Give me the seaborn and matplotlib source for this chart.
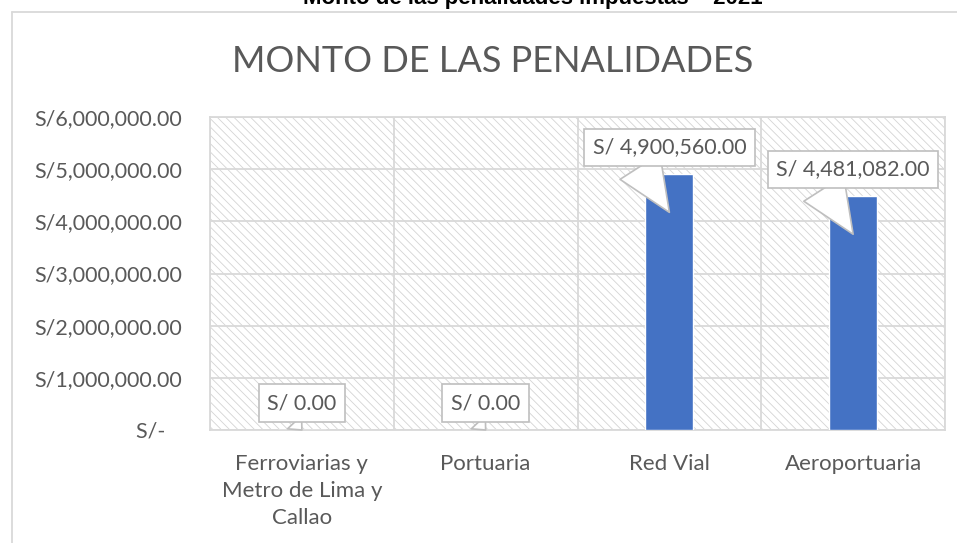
import matplotlib
matplotlib.use("Agg")
import matplotlib.pyplot as plt
import matplotlib.transforms as mtransforms
from matplotlib.patches import Rectangle
from matplotlib.lines import Line2D
import seaborn as sns
import pandas as pd

# --- Data ---
categories = ["Ferroviarias y\nMetro de Lima y\nCallao", "Portuaria", "Red Vial", "Aeroportuaria"]
montos = [0.00, 0.00, 4900560.00, 4481082.00]
etiquetas = ["S/ 0.00", "S/ 0.00", "S/ 4,900,560.00", "S/ 4,481,082.00"]
y_ticks = [0, 1000000, 2000000, 3000000, 4000000, 5000000, 6000000]
y_tick_labels = ["S/-   ", "S/1,000,000.00", "S/2,000,000.00", "S/3,000,000.00",
                 "S/4,000,000.00", "S/5,000,000.00", "S/6,000,000.00"]

df = pd.DataFrame({"categoria": categories, "monto": montos})

# --- Style ---
sns.set_theme(style="white")
plt.rcParams["font.family"] = ["Lato", "DejaVu Sans"]
plt.rcParams["hatch.linewidth"] = 0.6
plt.rcParams["hatch.color"] = "#D4D4D4"
text_color = "#595959"
grid_color = "#D9D9D9"
bar_color = "#4472C4"

fig = plt.figure(figsize=(9.57, 5.43), dpi=100)
ax = fig.add_axes([210 / 957, 1 - 430 / 543, 735 / 957, 313 / 543])

# hatched plot area background
ax.add_patch(Rectangle((0, 0), 1, 1, transform=ax.transAxes, facecolor="white",
                       edgecolor="#D4D4D4", linewidth=0, hatch="\\\\\\\\", zorder=0))

sns.barplot(data=df, x="categoria", y="monto", color=bar_color, width=0.26,
            saturation=1, ax=ax, zorder=3)

ax.set_xlim(-0.5, 3.5)
ax.set_ylim(0, 6000000)
ax.set_yticks(y_ticks)
ax.set_yticklabels(y_tick_labels)
ax.set_xticks(range(len(categories)))
ax.set_xticklabels(categories, linespacing=1.45)
ax.set_xticks([-0.5, 0.5, 1.5, 2.5, 3.5], minor=True)
ax.set_xlabel("")
ax.set_ylabel("")
ax.tick_params(axis="y", length=0, pad=20, labelsize=15.5, labelcolor=text_color)
ax.tick_params(axis="x", which="both", length=0, pad=17, labelsize=16, labelcolor=text_color)
ax.grid(axis="y", color=grid_color, linewidth=1.3, zorder=1)
ax.grid(axis="x", which="minor", color=grid_color, linewidth=1.3, zorder=1)
ax.grid(axis="x", which="major", visible=False)
ax.set_axisbelow(True)
for s in ax.spines.values():
    s.set_color(grid_color)
    s.set_linewidth(1.3)

# --- Callout labels ---
for i, (v, lab) in enumerate(zip(montos, etiquetas)):
    drop = 38 if v > 0 else 0
    tip_tr = ax.transData + mtransforms.ScaledTranslation(0, -drop / 100, fig.dpi_scale_trans)
    tail = 2.2 if v > 0 else 0.9
    ax.annotate(lab, xy=(i, v), xycoords=tip_tr, xytext=(0, 27 + drop),
                textcoords="offset pixels", ha="center", va="center",
                fontsize=15.5, color=text_color, zorder=5,
                bbox=dict(boxstyle="square,pad=0.4", fc="white", ec="#BFBFBF", lw=1.2),
                arrowprops=dict(arrowstyle=f"wedge,tail_width={tail},shrink_factor=0.5",
                                fc="white", ec="#BFBFBF", lw=1.2, relpos=(0.27, 0.0),
                                shrinkA=0, shrinkB=0))

# --- Titles ---
fig.text(493 / 957, 1 - 62 / 543, "MONTO DE LAS PENALIDADES", ha="center", va="center",
         fontsize=26, color=text_color, fontweight="normal")
fig.text(533 / 957, 1 - 4 / 543, "Monto de las penalidades impuestas \u2013 2021",
         ha="center", va="baseline", fontsize=16, fontweight="bold",
         family=["Liberation Sans", "DejaVu Sans"], color="black")

# outer chart frame
fig.add_artist(Line2D([12 / 957, 1], [1 - 12 / 543, 1 - 12 / 543], color=grid_color, lw=1.3))
fig.add_artist(Line2D([12 / 957, 12 / 957], [0, 1 - 12 / 543], color=grid_color, lw=1.3))

fig.savefig("out.png", dpi=100)
